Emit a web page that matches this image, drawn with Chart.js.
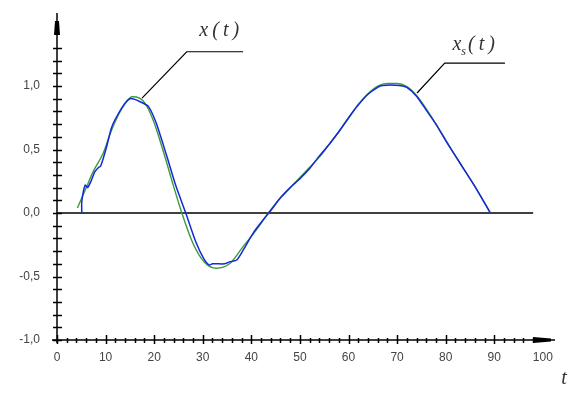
<!DOCTYPE html>
<html>
<head>
<meta charset="utf-8">
<script src="https://cdn.jsdelivr.net/npm/chart.js@4"></script>
<style>
  html, body { margin: 0; padding: 0; background: #fff; }
  #wrap { width: 583px; height: 400px; }
</style>
</head>
<body>
<div id="wrap"><canvas id="chart"></canvas></div>
<script>
// x_s(t) - smoothed curve (green)
const smoothT = [4.2, 5.8, 7.5, 9.5, 11, 12.6, 14, 15.5, 17, 18.5, 20, 22, 24, 25.7, 28, 30.4, 32.8, 35.5, 38.3, 41, 43.5,
                 46, 48, 50, 52, 54, 56, 58, 60, 62, 64, 66, 68, 70, 72, 74, 76, 78, 80, 82, 84, 86, 88, 89.2];
const smoothX = [0.04, 0.18, 0.33, 0.47, 0.63, 0.77, 0.86, 0.915, 0.905, 0.84, 0.71, 0.47, 0.21, 0, -0.24, -0.39, -0.435, -0.40, -0.265, -0.135, 0,
                 0.12, 0.20, 0.28, 0.36, 0.44, 0.54, 0.64, 0.745, 0.855, 0.94, 1.0, 1.02, 1.02, 0.995, 0.925, 0.82, 0.70, 0.575, 0.45, 0.33, 0.21, 0.08, 0];

// x(t) - measured curve (blue)
const measT = [5.1, 5.1, 5.8, 6.3, 7.0, 7.8, 8.6, 9.0, 10.2, 11.2, 12.3, 14.0, 15.0, 16.0, 17.1, 18.8, 20.4, 22.5, 24.5, 26.5,
               28.5, 30.2, 31.3, 32.0, 34.5, 35.5, 37.0, 38.5, 40.5, 42.3, 44.0, 46.0, 48.0, 50.0, 52.0, 54.0, 56.0, 58.0,
               60.0, 62.0, 64.0, 66.0, 67.0, 70.5, 72.0, 74.0, 76.0, 78.0, 80.0, 82.0, 84.0, 86.0, 88.0, 89.2];
const measX = [0, 0.09, 0.22, 0.20, 0.25, 0.325, 0.36, 0.37, 0.52, 0.67, 0.76, 0.865, 0.90, 0.895, 0.876, 0.84, 0.71, 0.46, 0.21, 0,
               -0.22, -0.36, -0.41, -0.40, -0.40, -0.385, -0.37, -0.28, -0.15, -0.06, 0.02, 0.12, 0.20, 0.27, 0.35, 0.45, 0.54, 0.64,
               0.75, 0.85, 0.935, 0.99, 1.005, 1.005, 0.99, 0.92, 0.81, 0.70, 0.57, 0.45, 0.33, 0.21, 0.08, 0];

// horizontal zero line
const zeroT = [0, 98];
const zeroX = [0, 0];

// axis ticks
const xLabelTicks = [0, 10, 20, 30, 40, 50, 60, 70, 80, 90, 100];
const yLabelTicks = [-1, -0.5, 0, 0.5, 1];
const xMinorStep = 2, xMinorMax = 98;
const yMinorStep = 0.1, yMinorMax = 1.3;

// curve labels: text anchor [t, x] and leader points
const labelX = { text: 'x(t)', at: [29.3, 1.39], leader: [[17.5, 0.905], [26.7, 1.27], [38.3, 1.27]] };
const labelXs = { text: 'x', sub: 's', rest: '(t)', at: [81.4, 1.28], leader: [[74.1, 0.945], [79.8, 1.18], [92.2, 1.18]] };
const axisTitleT = { text: 't', at: [103.8, -1.35] };

const toPts = (ts, vs) => ts.map((t, i) => ({ x: t, y: vs[i] }));

const axesPlugin = {
    id: 'axes',
    afterDraw(chart) {
        const { ctx, scales: { x, y } } = chart;
        const px = v => x.getPixelForValue(v);
        const py = v => y.getPixelForValue(v);
        const ax = px(0), ay = py(-1);
        ctx.save();
        ctx.strokeStyle = '#000';
        ctx.fillStyle = '#000';
        ctx.lineWidth = 1.5;

        // axis lines
        ctx.beginPath();
        ctx.moveTo(ax, ay + 3);
        ctx.lineTo(ax, y.top);
        ctx.moveTo(ax - 5, ay);
        ctx.lineTo(x.right, ay);
        ctx.stroke();

        // y ticks
        ctx.beginPath();
        for (let v = -1; v <= yMinorMax + 1e-6; v += yMinorStep) {
            const yy = Math.round(py(v)) + 0.5;
            ctx.moveTo(ax - 4, yy);
            ctx.lineTo(ax + 5, yy);
        }
        // x ticks
        for (let t = 0; t <= xMinorMax + 1e-6; t += xMinorStep) {
            const xx = Math.round(px(t)) + 0.5;
            const major = xLabelTicks.includes(Math.round(t));
            ctx.moveTo(xx, ay - (major ? 5 : 2));
            ctx.lineTo(xx, ay + (major ? 4 : 3));
        }
        ctx.stroke();

        // arrow heads
        ctx.beginPath();
        ctx.moveTo(ax - 3, y.top + 22);
        ctx.lineTo(ax + 3, y.top + 22);
        ctx.lineTo(ax + 2, y.top + 8);
        ctx.lineTo(ax - 2, y.top + 8);
        ctx.closePath();
        ctx.fill();
        ctx.beginPath();
        ctx.moveTo(x.right - 22, ay - 3);
        ctx.lineTo(x.right - 22, ay + 3);
        ctx.lineTo(x.right - 4, ay + 1.5);
        ctx.lineTo(x.right - 4, ay - 1.5);
        ctx.closePath();
        ctx.fill();

        // leader lines
        ctx.lineWidth = 1.2;
        [labelX, labelXs].forEach(l => {
            ctx.beginPath();
            l.leader.forEach((p, i) => {
                const fn = i ? 'lineTo' : 'moveTo';
                ctx[fn](px(p[0]), py(p[1]));
            });
            ctx.stroke();
        });

        // labels
        ctx.fillStyle = '#333';
        ctx.textBaseline = 'alphabetic';
        ctx.font = 'italic 20px "Liberation Serif", "DejaVu Serif", serif';
        ctx.letterSpacing = '4px';
        ctx.fillText(labelX.text, px(labelX.at[0]), py(labelX.at[1]));

        let lx = px(labelXs.at[0]);
        const ly = py(labelXs.at[1]);
        ctx.letterSpacing = '0px';
        ctx.fillText(labelXs.text, lx, ly);
        lx += ctx.measureText(labelXs.text).width;
        ctx.font = 'italic 12px "Liberation Serif", "DejaVu Serif", serif';
        ctx.fillText(labelXs.sub, lx, ly + 5);
        lx += ctx.measureText(labelXs.sub).width + 2;
        ctx.font = 'italic 20px "Liberation Serif", "DejaVu Serif", serif';
        ctx.letterSpacing = '4px';
        ctx.fillText(labelXs.rest, lx, ly);

        ctx.letterSpacing = '0px';
        ctx.fillText(axisTitleT.text, px(axisTitleT.at[0]), py(axisTitleT.at[1]));
        ctx.restore();
    }
};

const fmt = v => v.toFixed(1).replace('.', ',');

new Chart(document.getElementById('chart'), {
    type: 'line',
    data: {
        datasets: [
            {
                label: 'x(t)',
                data: toPts(measT, measX),
                borderColor: '#1428dc',
                borderWidth: 1.5,
                pointRadius: 0,
                tension: 0.2
            },
            {
                label: 'xs(t)',
                data: toPts(smoothT, smoothX),
                borderColor: '#3c9a3c',
                borderWidth: 1.4,
                pointRadius: 0,
                cubicInterpolationMode: 'monotone'
            },
            {
                label: 'zero',
                data: toPts(zeroT, zeroX),
                borderColor: '#000',
                borderWidth: 1.5,
                pointRadius: 0
            }
        ]
    },
    options: {
        responsive: true,
        maintainAspectRatio: false,
        animation: false,
        layout: { padding: { top: 13, right: 28, left: 0, bottom: 0 } },
        plugins: { legend: { display: false }, tooltip: { enabled: false } },
        scales: {
            x: {
                type: 'linear',
                min: 0,
                max: 102.5,
                afterFit: s => { s.height = 60; },
                afterBuildTicks: s => { s.ticks = xLabelTicks.map(v => ({ value: v })); },
                grid: { display: false, drawTicks: true, tickLength: 10 },
                border: { display: false },
                ticks: {
                    padding: 0,
                    maxRotation: 0,
                    autoSkip: false,
                    color: '#444',
                    font: { family: '"Liberation Sans", Arial, sans-serif', size: 12 }
                }
            },
            y: {
                type: 'linear',
                min: -1,
                max: 1.575,
                afterFit: s => { s.width = 57; },
                afterBuildTicks: s => { s.ticks = yLabelTicks.map(v => ({ value: v })); },
                grid: { display: false, drawTicks: true, tickLength: 17 },
                border: { display: false },
                ticks: {
                    padding: 0,
                    autoSkip: false,
                    color: '#444',
                    callback: v => fmt(v),
                    font: { family: '"Liberation Sans", Arial, sans-serif', size: 12 }
                }
            }
        }
    },
    plugins: [axesPlugin]
});
</script>
</body>
</html>
